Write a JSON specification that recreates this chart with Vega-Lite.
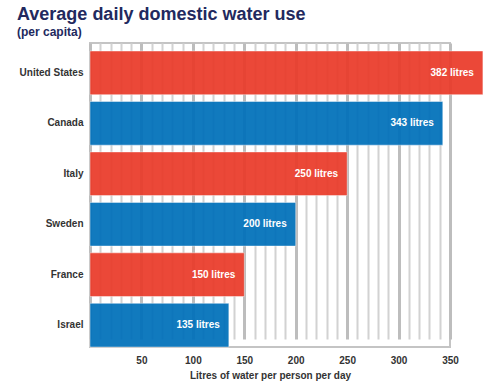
{
  "$schema": "https://vega.github.io/schema/vega-lite/v6.json",
  "width": 360,
  "height": 304,
  "autosize": {"type": "none"},
  "padding": {"left": 90, "top": 43, "right": 50, "bottom": 42},
  "background": "white",
  "title": {
    "text": "Average daily domestic water use",
    "subtitle": "(per capita)",
    "anchor": "start",
    "frame": "group",
    "dx": -73,
    "offset": 5,
    "font": "Liberation Sans",
    "fontSize": 18,
    "fontWeight": "bold",
    "color": "#22295E",
    "subtitleFont": "Liberation Sans",
    "subtitleFontSize": 12,
    "subtitleFontWeight": "bold",
    "subtitleColor": "#22295E",
    "subtitlePadding": 3
  },
  "config": {
    "view": {"stroke": "#c4c4c4", "strokeWidth": 2},
    "font": "Liberation Sans"
  },
  "data": {
    "values": [
      {"country": "United States", "litres": 382, "label": "382 litres"},
      {"country": "Canada", "litres": 343, "label": "343 litres"},
      {"country": "Italy", "litres": 250, "label": "250 litres"},
      {"country": "Sweden", "litres": 200, "label": "200 litres"},
      {"country": "France", "litres": 150, "label": "150 litres"},
      {"country": "Israel", "litres": 135, "label": "135 litres"}
    ]
  },
  "encoding": {
    "y": {
      "field": "country",
      "type": "nominal",
      "sort": null,
      "scale": {"range": [8, 304], "paddingInner": 0.134, "paddingOuter": 0},
      "axis": {
        "title": null,
        "domain": false,
        "ticks": false,
        "labelFont": "Liberation Sans",
        "labelFontSize": 10,
        "labelFontWeight": "bold",
        "labelColor": "#333333",
        "labelPadding": 7
      }
    },
    "x": {
      "field": "litres",
      "type": "quantitative",
      "scale": {"domain": [0, 350], "nice": false, "clamp": false},
      "axis": {
        "title": "Litres of water per person per day",
        "values": [0, 10, 20, 30, 40, 50, 60, 70, 80, 90, 100, 110, 120, 130, 140, 150, 160, 170, 180, 190, 200, 210, 220, 230, 240, 250, 260, 270, 280, 290, 300, 310, 320, 330, 340, 350],
        "labelExpr": "datum.value % 50 === 0 && datum.value > 0 ? datum.label : ''",
        "domain": false,
        "ticks": false,
        "grid": true,
        "gridColor": {"condition": {"test": "datum.value % 50 === 0", "value": "#bdbdbd"}, "value": "#d2d2d2"},
        "gridWidth": {"condition": {"test": "datum.value % 50 === 0", "value": 3}, "value": 2},
        "gridOpacity": 1,
        "labelFont": "Liberation Sans",
        "labelFontSize": 10,
        "labelFontWeight": "bold",
        "labelColor": "#333333",
        "labelPadding": 8,
        "labelFlush": false,
        "titleFont": "Liberation Sans",
        "titleFontSize": 10,
        "titleFontWeight": "bold",
        "titleColor": "#333333",
        "titlePadding": 5
      }
    }
  },
  "layer": [
    {
      "mark": {"type": "bar", "opacity": 0.93, "stroke": "white", "strokeOpacity": 0.45, "strokeWidth": 1},
      "encoding": {
        "color": {
          "field": "country",
          "type": "nominal",
          "scale": {
            "domain": ["United States", "Canada", "Italy", "Sweden", "France", "Israel"],
            "range": ["#EA3B2A", "#0070BA", "#EA3B2A", "#0070BA", "#EA3B2A", "#0070BA"]
          },
          "legend": null
        }
      }
    },
    {
      "mark": {"type": "text", "align": "right", "baseline": "middle", "dx": -9, "color": "white", "font": "Liberation Sans", "fontSize": 10, "fontWeight": "bold"},
      "encoding": {
        "text": {"field": "label", "type": "nominal"},
        "detail": {"field": "country"}
      }
    }
  ]
}
